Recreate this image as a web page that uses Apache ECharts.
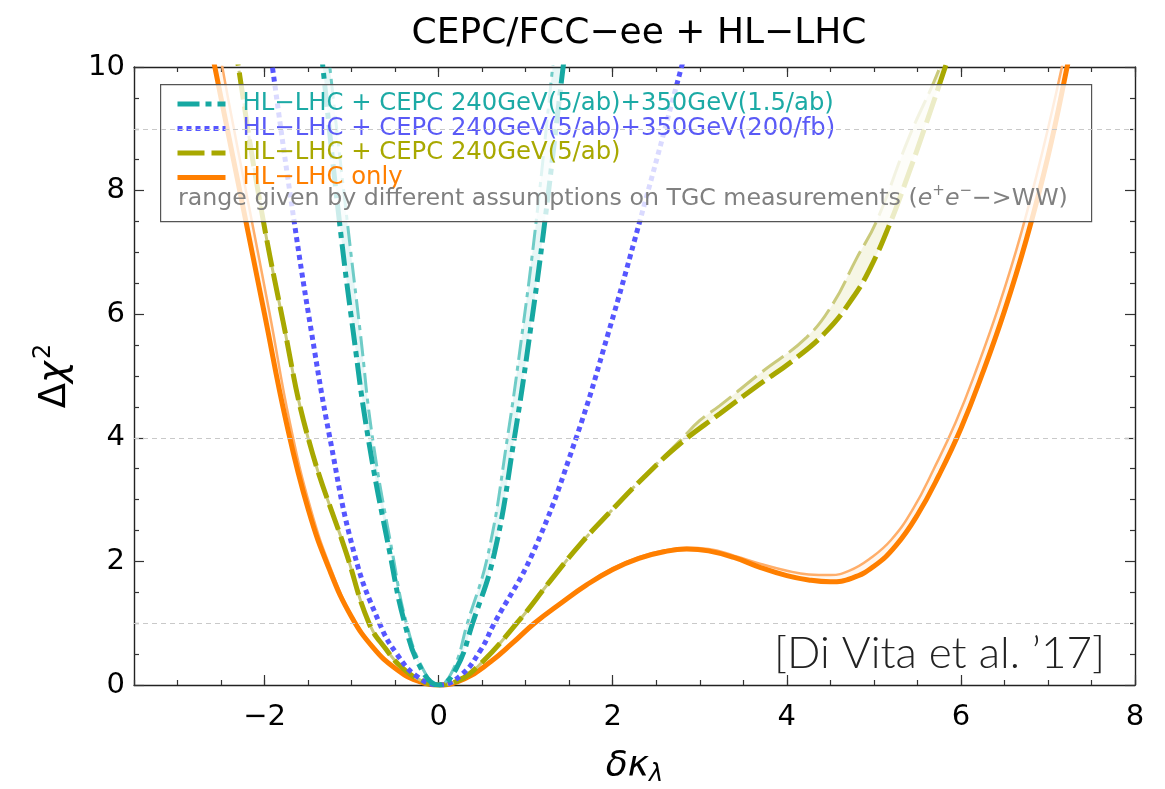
<!DOCTYPE html>
<html>
<head>
<meta charset="utf-8">
<script src="https://cdn.jsdelivr.net/npm/echarts@6/dist/echarts.min.js"></script>
<style>
  html, body { margin: 0; padding: 0; background: #fff; }
  #chart { width: 1165px; height: 789px; }
</style>
</head>
<body>
<div id="chart"></div>
<script>
// ---------------- data ----------------
const xRange = [-3.5, 8];
const yRange = [0, 10];
const xMajorTicks = [-2, 0, 2, 4, 6, 8];
const yGuideLines = [1, 4, 9];

const seriesNames = [
  'HL\u2212LHC + CEPC 240GeV(5/ab)+350GeV(1.5/ab)',
  'HL\u2212LHC + CEPC 240GeV(5/ab)+350GeV(200/fb)',
  'HL\u2212LHC + CEPC 240GeV(5/ab)',
  'HL\u2212LHC only'
];
const rangeNote = 'range given by different assumptions on TGC measurements';

// teal (dash-dot)
const tealDarkX  = [-1.40, -1.33, -1.14, -0.98, -0.81, -0.56, -0.39, -0.20, 0.00, 0.20, 0.39, 0.64, 0.87, 1.05, 1.22, 1.43, 1.50];
const tealDarkY  = [11.0, 10.0, 7.5, 5.7, 4.0, 2.13, 1.0, 0.26, 0.0, 0.26, 1.0, 2.13, 4.0, 5.7, 7.5, 10.0, 10.8];
const tealLightX = [-1.32, -1.25, -1.05, -0.90, -0.76, -0.53, -0.37, -0.18, 0.00, 0.17, 0.33, 0.57, 0.79, 0.96, 1.12, 1.31, 1.38];
const tealLightY = [11.0, 10.0, 7.5, 5.7, 4.0, 2.13, 1.0, 0.26, 0.0, 0.26, 1.0, 2.13, 4.0, 5.7, 7.5, 10.0, 10.9];

// blue (dotted)
const blueX = [-2.00, -1.91, -1.66, -1.46, -1.25, -0.97, -0.68, -0.48, -0.25, 0.00, 0.25, 0.48, 0.64, 1.08, 1.58, 1.95, 2.31, 2.79, 2.90];
const blueY = [11.0, 10.0, 7.5, 5.7, 4.0, 2.13, 1.0, 0.5, 0.14, 0.0, 0.15, 0.56, 1.0, 2.13, 4.0, 5.7, 7.5, 10.0, 10.6];

// olive (dashed)
const oliveDarkX  = [-2.40, -2.30, -2.07, -1.79, -1.50, -1.06, -0.80, -0.60, -0.42, -0.20, 0.00, 0.22, 0.45, 0.91, 1.28, 1.64, 1.97, 2.35, 2.77, 3.23, 3.69, 4.07, 4.46, 4.76, 4.96, 5.18, 5.36, 5.60, 5.82, 5.95];
const oliveDarkY  = [11.0, 10.0, 7.95, 5.9, 4.0, 2.13, 1.0, 0.57, 0.28, 0.07, 0.0, 0.07, 0.3, 1.02, 1.68, 2.3, 2.8, 3.35, 3.9, 4.39, 4.87, 5.25, 5.73, 6.27, 6.75, 7.45, 8.12, 9.08, 10.0, 10.55];
const oliveLightX = [-2.40, -2.30, -2.07, -1.79, -1.50, -1.06, -0.80, -0.60, -0.42, -0.20, 0.00, 0.22, 0.45, 0.91, 1.28, 1.64, 1.97, 2.35, 2.77, 3.00, 3.23, 3.69, 4.23, 4.53, 4.80, 5.03, 5.40, 5.76, 5.86];
const oliveLightY = [11.0, 10.0, 7.95, 5.9, 4.0, 2.13, 1.0, 0.57, 0.28, 0.07, 0.0, 0.07, 0.3, 1.02, 1.68, 2.3, 2.8, 3.36, 3.95, 4.28, 4.52, 5.04, 5.63, 6.17, 6.9, 7.5, 8.85, 10.0, 10.5];

// orange (solid)
const orangeDarkX  = [-2.70, -2.50, -2.25, -2.00, -1.75, -1.50, -1.25, -1.00, -0.75, -0.50, -0.25, 0.00, 0.30, 0.60, 0.85, 1.10, 1.40, 1.70, 2.00, 2.30, 2.60, 2.85, 3.10, 3.40, 3.70, 4.00, 4.25, 4.50, 4.75, 5.00, 5.25, 5.50, 5.75, 6.00, 6.25, 6.50, 6.75, 7.00, 7.22, 7.30];
const orangeDarkY  = [10.9, 9.5, 7.75, 6.0, 4.25, 2.85, 1.85, 1.1, 0.6, 0.27, 0.07, 0.0, 0.1, 0.38, 0.68, 1.0, 1.32, 1.62, 1.87, 2.05, 2.16, 2.2, 2.17, 2.06, 1.9, 1.77, 1.7, 1.67, 1.73, 1.92, 2.25, 2.75, 3.4, 4.15, 5.05, 6.05, 7.2, 8.55, 10.0, 10.6];
const orangeLightX = [-2.60, -2.42, -2.18, -1.94, -1.71, -1.47, -1.23, -0.99, -0.74, -0.50, -0.25, 0.00, 0.30, 0.60, 0.85, 1.10, 1.40, 1.70, 2.00, 2.30, 2.60, 2.85, 3.10, 3.40, 3.70, 4.00, 4.25, 4.50, 4.72, 4.96, 5.20, 5.45, 5.69, 5.94, 6.19, 6.44, 6.69, 6.94, 7.16, 7.24];
const orangeLightY = [10.9, 9.5, 7.75, 6.0, 4.25, 2.85, 1.85, 1.1, 0.6, 0.27, 0.07, 0.0, 0.1, 0.38, 0.68, 1.0, 1.33, 1.63, 1.89, 2.07, 2.18, 2.22, 2.2, 2.09, 1.96, 1.85, 1.79, 1.78, 1.85, 2.05, 2.35, 2.85, 3.5, 4.25, 5.15, 6.15, 7.3, 8.65, 10.0, 10.6];

// ---------------- helpers ----------------
const zip = (xs, ys) => xs.map((x, i) => [x, ys[i]]);
const fmt = v => (v < 0 ? '\u2212' + Math.abs(v) : String(v));
const FONT = 'DejaVu Sans';

const C = {
  teal: '#16A8A2', tealLight: '#6FCCC7', tealFill: 'rgba(22,168,162,0.10)',
  blue: '#5656FF',
  olive: '#A8A800', oliveLight: '#CACA7C', oliveFill: 'rgba(168,168,0,0.10)',
  orange: '#FF7F00', orangeLight: '#FFAE6A', orangeFill: 'rgba(255,127,0,0.06)'
};

function band(name, dx, dy, lx, ly, fill) {
  return {
    type: 'custom', name: name, clip: true, silent: true,
    xAxisIndex: 0, yAxisIndex: 0, z: 1,
    data: [[0, 0]],
    renderItem: function (params, api) {
      const pts = [];
      for (let i = 0; i < dx.length; i++) pts.push(api.coord([dx[i], dy[i]]));
      for (let i = lx.length - 1; i >= 0; i--) pts.push(api.coord([lx[i], ly[i]]));
      return { type: 'polygon', shape: { points: pts, smooth: 0.3 }, style: { fill: fill, stroke: null } };
    }
  };
}

function line(name, xs, ys, color, width, dash, extra) {
  return Object.assign({
    type: 'line', name: name, data: zip(xs, ys),
    xAxisIndex: 0, yAxisIndex: 0,
    smooth: 0.45, symbol: 'none', clip: true, silent: true,
    lineStyle: { color: color, width: width, type: dash, cap: 'butt' },
    itemStyle: { color: color },
    z: 2
  }, extra || {});
}

const tickStyle = { color: '#333', width: 1.2 };
const axisLineStyle = { color: '#222', width: 1.4 };

const option = {
  animation: false,
  backgroundColor: '#ffffff',
  textStyle: { fontFamily: FONT },
  title: {
    text: 'CEPC/FCC\u2212ee + HL\u2212LHC',
    left: 634, top: 11, textAlign: 'center',
    textStyle: { fontFamily: FONT, fontSize: 36, fontWeight: 'normal', color: '#000' }
  },
  grid: { left: 134, right: 30, top: 67, bottom: 104, containLabel: false, outerBoundsMode: 'none' },
  legend: {
    orient: 'vertical', left: 175, top: 92, padding: 0,
    itemWidth: 48, itemHeight: 12, itemGap: 0.5,
    selectedMode: false,
    lineStyle: { width: 5 },
    itemStyle: { opacity: 0 },
    textStyle: { fontFamily: FONT, fontSize: 24.3, lineHeight: 24, padding: [0, 0, 0, 12] },
    data: [
      { name: seriesNames[0], textStyle: { color: '#1CAAA5' } },
      { name: seriesNames[1], textStyle: { color: '#5A5AF6' } },
      { name: seriesNames[2], textStyle: { color: '#A8A800' } },
      { name: seriesNames[3], textStyle: { color: '#FF7F00' } }
    ]
  },
  xAxis: [
    { // bottom: minor ticks + labels
      type: 'value', position: 'bottom', min: xRange[0], max: xRange[1], interval: 0.5,
      axisLine: { show: true, onZero: false, lineStyle: axisLineStyle },
      axisTick: { show: true, inside: true, length: 5, lineStyle: tickStyle },
      splitLine: { show: false },
      axisLabel: {
        show: true, margin: 18, color: '#000', fontFamily: FONT, fontSize: 29,
        formatter: v => (xMajorTicks.indexOf(v) >= 0 ? fmt(v) : '')
      },
      name: '{k|\u03b4\u03ba}{l|\u03bb}', nameLocation: 'middle', nameGap: 62,
      nameTextStyle: {
        rich: {
          k: { fontFamily: FONT, fontSize: 36, fontStyle: 'italic', color: '#000' },
          l: { fontFamily: FONT, fontSize: 24, fontStyle: 'italic', color: '#000', padding: [16, 0, 0, 0] }
        }
      }
    },
    { // bottom: major ticks
      type: 'value', position: 'bottom', min: xRange[0], max: xRange[1], splitNumber: 5,
      axisLine: { show: false, onZero: false },
      axisTick: { show: true, inside: true, length: 10, lineStyle: tickStyle, customValues: xMajorTicks },
      axisLabel: { show: false }, splitLine: { show: false }
    },
    { // top: minor ticks
      type: 'value', position: 'top', min: xRange[0], max: xRange[1], interval: 0.5,
      axisLine: { show: true, onZero: false, lineStyle: axisLineStyle },
      axisTick: { show: true, inside: true, length: 5, lineStyle: tickStyle },
      axisLabel: { show: false }, splitLine: { show: false }
    },
    { // top: major ticks
      type: 'value', position: 'top', min: xRange[0], max: xRange[1], splitNumber: 5,
      axisLine: { show: false, onZero: false },
      axisTick: { show: true, inside: true, length: 10, lineStyle: tickStyle, customValues: xMajorTicks },
      axisLabel: { show: false }, splitLine: { show: false }
    }
  ],
  yAxis: [
    {
      type: 'value', position: 'left', min: yRange[0], max: yRange[1], interval: 2,
      axisLine: { show: true, onZero: false, lineStyle: axisLineStyle },
      axisTick: { show: true, inside: true, length: 10, lineStyle: tickStyle },
      minorTick: { show: true, splitNumber: 4, length: 5, lineStyle: tickStyle },
      splitLine: { show: false }, minorSplitLine: { show: false },
      axisLabel: { show: true, margin: 9, color: '#000', fontFamily: FONT, fontSize: 29, formatter: fmt },
      name: '{d|\u0394}{c|\u03c7}{s|2}', nameLocation: 'middle', nameGap: 56, nameRotate: 90,
      nameTextStyle: {
        rich: {
          d: { fontFamily: FONT, fontSize: 37, color: '#000' },
          c: { fontFamily: FONT, fontSize: 37, fontStyle: 'italic', color: '#000' },
          s: { fontFamily: FONT, fontSize: 24, color: '#000', padding: [0, 0, 22, 2] }
        }
      }
    },
    {
      type: 'value', position: 'right', min: yRange[0], max: yRange[1], interval: 2,
      axisLine: { show: true, onZero: false, lineStyle: axisLineStyle },
      axisTick: { show: true, inside: true, length: 10, lineStyle: tickStyle },
      minorTick: { show: true, splitNumber: 4, length: 5, lineStyle: tickStyle },
      splitLine: { show: false }, axisLabel: { show: false }
    }
  ],
  graphic: [
    { type: 'rect', left: 160, top: 84, z: 3, silent: true,
      shape: { width: 931, height: 137 },
      style: { fill: 'rgba(255,255,255,0.78)', stroke: '#555', lineWidth: 1.2 } },
    { type: 'text', left: 178, top: 184, z: 5, silent: true,
      style: {
        text: rangeNote + ' ({i|e}{p|+}{i|e}{p|\u2212}\u2212>WW)',
        fontFamily: FONT, fontSize: 23.7, fill: '#808080',
        rich: {
          i: { fontFamily: FONT, fontSize: 23.7, fontStyle: 'italic', fill: '#808080' },
          p: { fontFamily: FONT, fontSize: 15, fill: '#808080', padding: [0, 0, 14, 0] }
        }
      } },
    { type: 'text', right: 60, top: 632, z: 5, silent: true,
      style: { text: '[Di Vita et al. \u201917]', fontFamily: 'Lato', fontWeight: 300, fontSize: 44, fill: '#222' } }
  ],
  series: [
    band('orangeBand', orangeDarkX, orangeDarkY, orangeLightX, orangeLightY, C.orangeFill),
    band('oliveBand', oliveDarkX, oliveDarkY, oliveLightX, oliveLightY, C.oliveFill),
    band('tealBand', tealDarkX, tealDarkY, tealLightX, tealLightY, C.tealFill),
    line('orange light', orangeLightX, orangeLightY, C.orangeLight, 2.5, 'solid', {
      markLine: {
        silent: true, symbol: ['none', 'none'], label: { show: false },
        lineStyle: { color: '#c9c9c9', width: 1, type: [5, 4] },
        data: yGuideLines.map(v => ({ yAxis: v }))
      }
    }),
    line(seriesNames[3], orangeDarkX, orangeDarkY, C.orange, 5, 'solid'),
    line('olive light', oliveLightX, oliveLightY, C.oliveLight, 3, [26, 7]),
    line(seriesNames[2], oliveDarkX, oliveDarkY, C.olive, 5, [27, 7]),
    line(seriesNames[1], blueX, blueY, C.blue, 5, [5, 4]),
    line('teal light', tealLightX, tealLightY, C.tealLight, 3, [20, 6, 5, 6]),
    line(seriesNames[0], tealDarkX, tealDarkY, C.teal, 5, [22, 6, 6, 6])
  ]
};

const chart = echarts.init(document.getElementById('chart'), null, { renderer: 'canvas' });
chart.setOption(option);
</script>
</body>
</html>
